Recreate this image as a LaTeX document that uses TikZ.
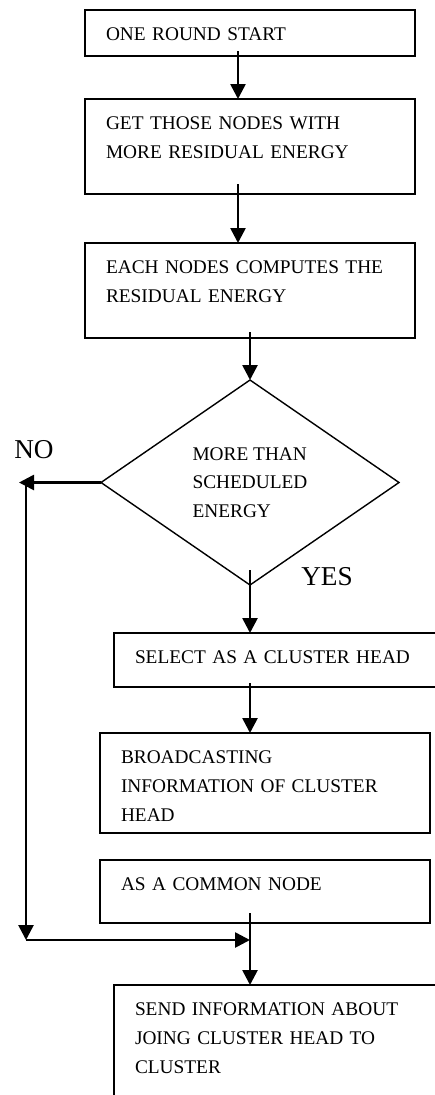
\documentclass[tikz,border=0pt]{standalone}
\usepackage{fontspec}
\setmainfont{Liberation Serif}
\usepackage{tikz}
\usetikzlibrary{arrows.meta,
                positioning,
                shapes.geometric}
\tikzstyle{stepbox} = [draw, line width=1.1pt, text width=5.76cm, align=left,
                       inner xsep=0.42cm, inner ysep=0pt, outer sep=0pt, text height=0.6cm,
                       font=\fontsize{11}{16.5}\selectfont]
\tikzstyle{arrow} = [line width=1.5pt,-{Triangle[width=0.3cm,length=0.3cm]}]
\tikzstyle{answer} = [font=\fontsize{15.5}{18}\selectfont]

\begin{document}
\begin{tikzpicture}
    \path[use as bounding box, clip] (0,0) rectangle (8.7,-21.9);

    \node[stepbox, text depth=0.32cm] (start) at (5,-0.66) {ONE ROUND START};
    \node[stepbox, text depth=1.3cm] (get) [below=0.86cm of start] {GET THOSE NODES WITH\\MORE RESIDUAL ENERGY};
    \node[stepbox, text depth=1.3cm] (comp) [below=0.98cm of get] {EACH NODES COMPUTES THE\\RESIDUAL ENERGY};
    \node[draw, diamond, line width=0.8pt, minimum width=5.96cm, minimum height=4.1cm, inner sep=0pt, outer sep=0pt,
          align=left, font=\fontsize{11}{16.3}\selectfont] (dec) [below=0.84cm of comp] {MORE THAN\\SCHEDULED\\ENERGY};
    \node[stepbox, line width=0.8pt, text depth=0.48cm] (sel) [below=0.96cm of dec, xshift=0.58cm] {SELECT AS A CLUSTER HEAD};
    \node[stepbox, text depth=1.4cm] (bcast) [below=0.92cm of sel, xshift=-0.28cm] {BROADCASTING\\INFORMATION OF CLUSTER\\HEAD};
    \node[stepbox, text depth=0.66cm] (common) [below=0.54cm of bcast] {AS A COMMON NODE};
    \node[stepbox, line width=0.8pt, text depth=2cm] (send) [below=1.24cm of common, xshift=0.28cm] {SEND INFORMATION ABOUT\\JOING CLUSTER HEAD TO\\CLUSTER};

    \node[answer] (no) at ([xshift=-1.34cm,yshift=0.66cm]dec.west) {NO};
    \node[answer] (yes) at ([xshift=1.54cm,yshift=0.16cm]dec.south) {YES};

    \coordinate (nocorner) at ([xshift=-1.5cm]dec.west);
    \coordinate (join) at ([yshift=-0.34cm]dec.south |- common.south);

    % main line
    \draw[arrow] ([xshift=-0.24cm,yshift=0.1cm]start.south) -- ([xshift=-0.24cm]get.north);
    \draw[arrow] ([xshift=-0.24cm,yshift=0.2cm]get.south) -- ([xshift=-0.24cm]comp.north);
    \draw[arrow] ([yshift=0.12cm]comp.south) -- (dec.north);
    \draw[arrow] ([yshift=0.3cm]dec.south) -- (dec.south |- sel.north);
    \draw[arrow] ([yshift=0.08cm]sel.south -| dec.south) -- (dec.south |- bcast.north);
    \draw[arrow] ([yshift=0.2cm]common.south -| join) -- (join |- send.north);

    % NO branch
    \draw[arrow] (dec.west) -- ++(-1.64cm,0);
    \draw[arrow] (nocorner) -- (nocorner |- join);
    \draw[arrow] (nocorner |- join) -- (join);
\end{tikzpicture}
\end{document}
